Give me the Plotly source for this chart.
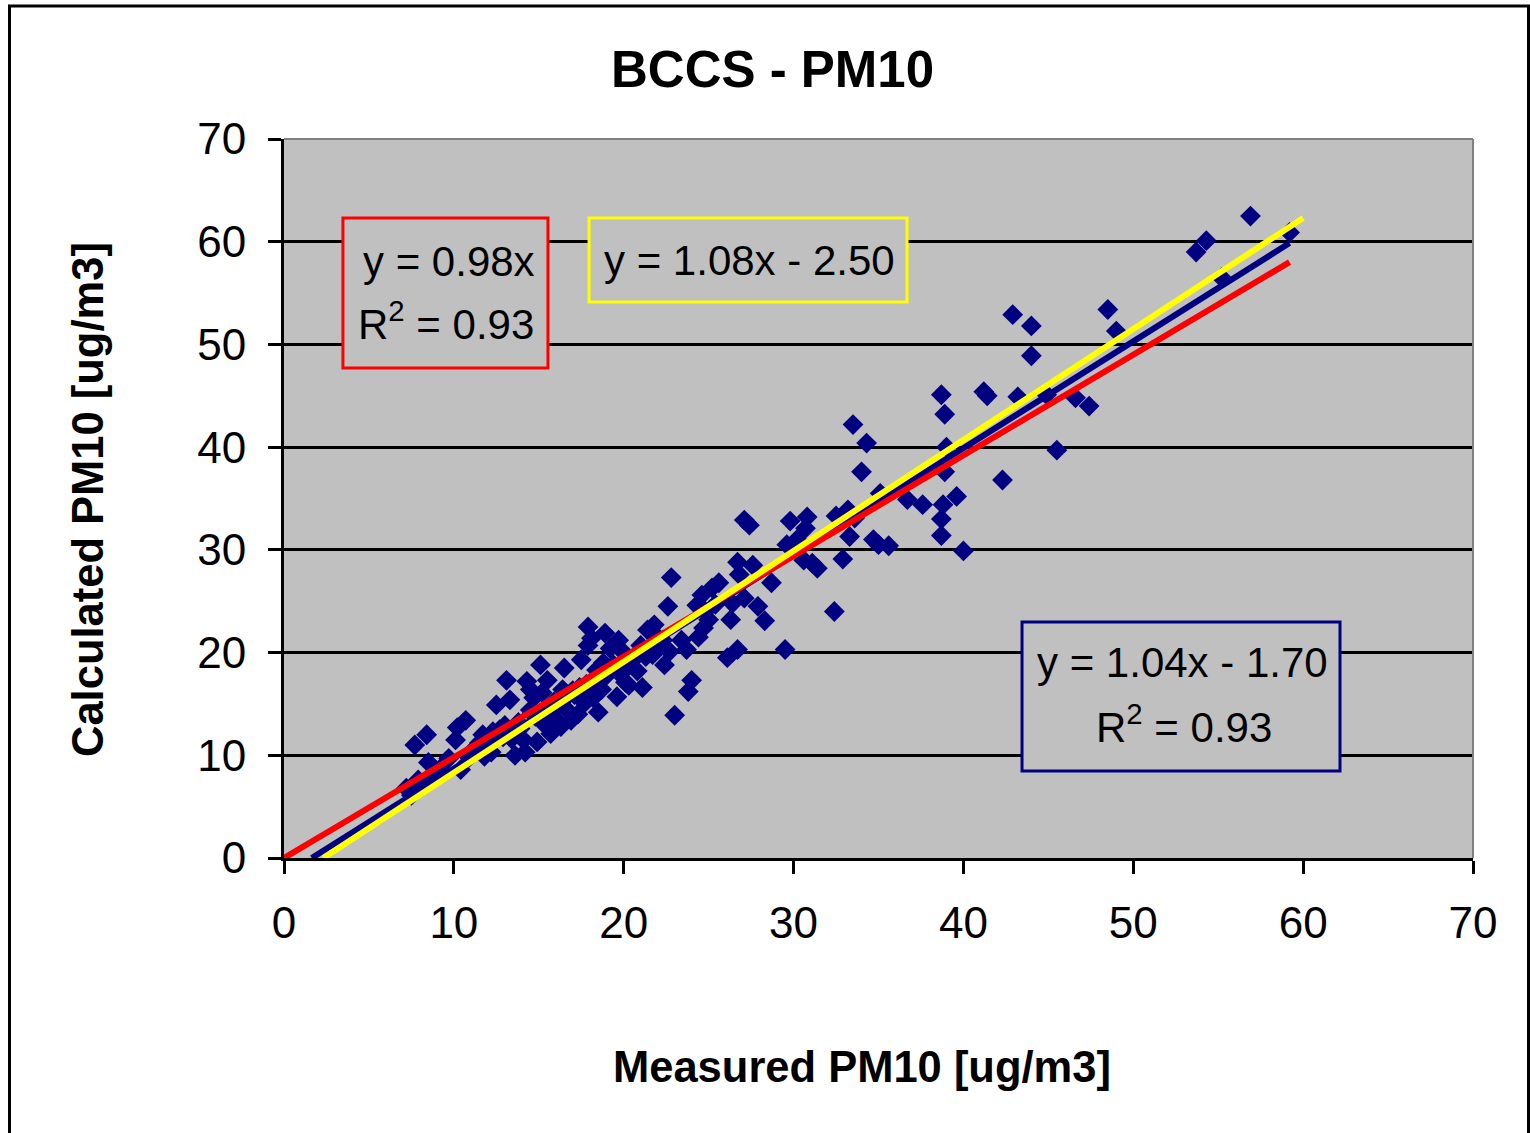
import plotly.graph_objects as go

# ---------------- data ----------------
measured = [
    7.2, 7.5, 7.9, 8.1, 8.5, 8.7, 7.7, 8.4, 9.2, 9.7, 10.1, 10.2, 10.4, 10.7, 10.9, 11.2, 11.5, 11.7, 12.0, 11.8, 12.3, 12.5, 12.7, 12.2,
    13.1, 13.3, 13.0, 13.4, 13.6, 13.8, 14.1, 14.2, 14.5, 14.5, 14.3, 14.7, 14.9, 14.8, 15.1, 15.2, 15.4, 15.5, 15.6, 15.7, 15.9, 16.0, 16.2, 16.4, 16.5, 16.3, 16.8, 16.7, 16.9,
    17.1, 17.3, 17.5, 17.4, 17.7, 17.9, 17.9, 18.1, 18.0, 18.2, 18.5, 18.4, 18.7, 18.9, 18.8, 19.2, 19.0, 19.4, 19.6, 19.7, 19.9, 20.1, 20.0, 20.4, 20.3,
    21.0, 21.1, 21.4, 21.3, 21.7, 21.8, 22.0, 22.3, 22.4, 22.6, 22.8, 22.7, 23.0, 23.4, 23.7, 23.8, 24.0, 24.3, 24.4, 24.7, 24.6, 24.8, 25.0, 25.2, 25.6, 25.4,
    26.1, 26.3, 26.4, 26.7, 26.7, 26.8, 27.1, 27.1, 27.4, 27.6, 27.9, 28.3, 28.7, 29.5, 29.6, 29.8, 30.6, 30.7, 30.8, 31.1, 31.4, 30.2,
    32.4, 32.5, 32.9, 33.2, 33.3, 33.5, 33.6, 34.0, 34.3, 34.7, 35.0, 35.1, 35.6, 36.7, 37.6, 38.7, 38.9, 38.7, 38.7, 38.8, 38.9, 39.0, 39.6, 40.0,
    41.2, 41.4, 42.3, 42.9, 43.2, 44.0, 44.0, 44.9, 45.5, 46.6, 47.4, 48.5, 49.0, 53.7, 54.3, 55.2, 56.9, 59.2,
    13.9, 14.6, 15.3, 16.1, 17.0, 17.8, 18.6, 19.3, 20.6, 21.9, 12.9, 11.4, 19.8, 20.8,
]
calculated = [
    6.8, 6.1, 7.6, 7.2, 9.3, 8.1, 11.0, 12.0, 8.7, 9.7, 11.5, 12.7, 8.6, 13.4, 9.8, 10.6, 11.2, 12.0, 11.0, 9.9, 12.3, 14.9, 12.5, 10.3,
    17.3, 15.4, 12.9, 11.6, 10.0, 13.2, 11.5, 10.3, 16.4, 14.4, 17.2, 15.6, 11.3, 13.8, 18.8, 16.1, 12.9, 17.3, 14.5, 12.1, 15.2, 13.5, 14.9, 16.4, 18.5, 12.8, 14.2, 15.8, 13.4,
    15.9, 14.0, 19.3, 16.6, 15.1, 20.7, 22.5, 21.4, 17.0, 15.6, 14.2, 18.3, 16.4, 21.9, 19.0, 20.4, 17.8, 18.8, 15.7, 21.2, 18.5, 17.1, 20.0, 19.1, 16.8,
    20.7, 16.6, 22.2, 19.6, 19.8, 22.7, 21.5, 21.2, 18.8, 24.5, 27.3, 20.1, 13.9, 21.2, 20.3, 16.2, 17.3, 24.6, 21.5, 22.4, 25.6, 24.0, 23.2, 26.3, 26.8, 24.7,
    19.5, 23.2, 24.8, 20.3, 28.8, 27.6, 25.3, 32.9, 32.4, 28.5, 24.5, 23.1, 26.8, 20.3, 30.5, 32.8, 29.0, 32.1, 33.2, 28.7, 28.2, 31.0,
    24.0, 33.3, 29.1, 33.9, 31.3, 42.2, 33.1, 37.6, 40.4, 31.0, 30.5, 35.5, 30.4, 34.9, 34.4, 45.1, 43.2, 33.0, 31.4, 34.4, 37.6, 40.0, 35.2, 29.9,
    45.4, 45.0, 36.8, 52.9, 44.9, 51.8, 48.9, 45.1, 39.7, 44.8, 44.0, 53.4, 51.3, 59.0, 60.1, 56.5, 62.5, 60.9,
    12.6, 14.1, 13.8, 15.0, 16.3, 16.9, 17.6, 18.4, 19.4, 20.6, 11.8, 10.9, 17.9, 18.2,
]

# trendline coefficients (as printed on the chart)
red_slope, red_icpt = 0.98, 0.0
blue_slope, blue_icpt = 1.04, -1.70
yellow_slope, yellow_icpt = 1.08, -2.50
r2_red, r2_blue = 0.93, 0.93

x_ticks = [0, 10, 20, 30, 40, 50, 60, 70]
y_ticks = [0, 10, 20, 30, 40, 50, 60, 70]

title_text = "BCCS - PM10"
x_title = "Measured PM10 [ug/m3]"
y_title = "Calculated PM10 [ug/m3]"

# ---------------- figure ----------------
FONT = "Liberation Sans, Arial, sans-serif"
W, H = 1530, 1133
ML, MR, MT, MB = 284, 57, 139, 275
PW, PH = W - ML - MR, H - MT - MB

def px_to_paper_x(px):
    return (px - ML) / PW

def px_to_paper_y(py):
    return (H - MB - py) / PH

xmax = max(measured)

def seg(slope, icpt, x_end):
    x0 = max(0.0, -icpt / slope)
    return [x0, x_end], [slope * x0 + icpt, slope * x_end + icpt]

fig = go.Figure()
fig.add_trace(go.Scatter(
    x=measured, y=calculated, mode="markers",
    marker=dict(symbol="diamond", size=16, color="#000080", line=dict(width=0)),
    showlegend=False, hoverinfo="x+y"))

bx, by = seg(blue_slope, blue_icpt, xmax)
fig.add_trace(go.Scatter(x=bx, y=by, mode="lines", line=dict(color="#000080", width=6), showlegend=False))
rx, ry = seg(red_slope, red_icpt, xmax)
fig.add_trace(go.Scatter(x=rx, y=ry, mode="lines", line=dict(color="#FF0000", width=6), showlegend=False))
yx, yy = seg(yellow_slope, yellow_icpt, 60.0)
fig.add_trace(go.Scatter(x=yx, y=yy, mode="lines", line=dict(color="#FFFF00", width=6), showlegend=False))

axis_common = dict(
    range=[0, 70], dtick=10, ticks="outside", ticklen=13, tickwidth=3, tickcolor="black",
    showline=True, linecolor="black", linewidth=3, zeroline=False,
    tickfont=dict(family=FONT, size=44, color="black"), fixedrange=True,
)
fig.update_xaxes(**axis_common, showgrid=False, tickvals=x_ticks, ticklabelstandoff=11)
fig.update_yaxes(**axis_common, showgrid=True, gridcolor="black", gridwidth=3, tickvals=y_ticks,
                 ticklabelstandoff=13)

shapes = []
# outer chart border
shapes.append(dict(type="rect", xref="paper", yref="paper",
                   x0=px_to_paper_x(9.5), x1=px_to_paper_x(1528.5),
                   y0=px_to_paper_y(1145), y1=px_to_paper_y(6),
                   line=dict(color="black", width=3), fillcolor="rgba(0,0,0,0)", layer="below"))
# gray top / right plot border
shapes.append(dict(type="line", xref="paper", yref="paper", x0=0, x1=1, y0=1, y1=1,
                   line=dict(color="#808080", width=2), layer="above"))
shapes.append(dict(type="line", xref="paper", yref="paper", x0=1, x1=1, y0=0, y1=1,
                   line=dict(color="#808080", width=2), layer="above"))
# equation boxes (data coordinates)
shapes.append(dict(type="rect", xref="x", yref="y", x0=3.47, x1=15.54, y0=47.71, y1=62.31,
                   line=dict(color="#FF0000", width=3), fillcolor="#C0C0C0", layer="above"))
shapes.append(dict(type="rect", xref="x", yref="y", x0=17.96, x1=36.68, y0=54.13, y1=62.31,
                   line=dict(color="#FFFF00", width=3), fillcolor="#C0C0C0", layer="above"))
shapes.append(dict(type="rect", xref="x", yref="y", x0=43.45, x1=62.17, y0=8.47, y1=22.98,
                   line=dict(color="#000080", width=3), fillcolor="#C0C0C0", layer="above"))

tf = dict(family=FONT, size=42, color="black")
ann = []
ann.append(dict(text=f"y = {red_slope:.2f}x", x=9.71, y=58.1, xref="x", yref="y", showarrow=False, font=tf))
ann.append(dict(text=f"R<sup>2</sup> = {r2_red:.2f}", x=9.54, y=52.3, xref="x", yref="y", showarrow=False, font=tf))
ann.append(dict(text=f"y = {yellow_slope:.2f}x - {abs(yellow_icpt):.2f}", x=27.4, y=58.2, xref="x", yref="y",
                showarrow=False, font=tf))
ann.append(dict(text=f"y = {blue_slope:.2f}x - {abs(blue_icpt):.2f}", x=52.9, y=19.0, xref="x", yref="y",
                showarrow=False, font=tf))
ann.append(dict(text=f"R<sup>2</sup> = {r2_blue:.2f}", x=53.0, y=13.0, xref="x", yref="y", showarrow=False, font=tf))
# titles
ann.append(dict(text=f"<b>{title_text}</b>", xref="paper", yref="paper",
                x=px_to_paper_x(772), y=px_to_paper_y(70), showarrow=False,
                font=dict(family=FONT, size=51, color="black"), xanchor="center", yanchor="middle"))
ann.append(dict(text=f"<b>{x_title}</b>", xref="paper", yref="paper",
                x=px_to_paper_x(862), y=px_to_paper_y(1067), showarrow=False,
                font=dict(family=FONT, size=43.5, color="black"), xanchor="center", yanchor="middle"))
ann.append(dict(text=f"<b>{y_title}</b>", xref="paper", yref="paper",
                x=px_to_paper_x(88), y=px_to_paper_y(500), showarrow=False, textangle=-90,
                font=dict(family=FONT, size=43.5, color="black"), xanchor="center", yanchor="middle"))

fig.update_layout(
    width=W, height=H, autosize=False,
    margin=dict(l=ML, r=MR, t=MT, b=MB, pad=0),
    paper_bgcolor="white", plot_bgcolor="#C0C0C0",
    shapes=shapes, annotations=ann, showlegend=False,
    font=dict(family=FONT, color="black"),
)

fig.write_html("out.html", config={"displayModeBar": False},
               post_script="document.body.style.margin='0';document.body.style.overflow='hidden';")
